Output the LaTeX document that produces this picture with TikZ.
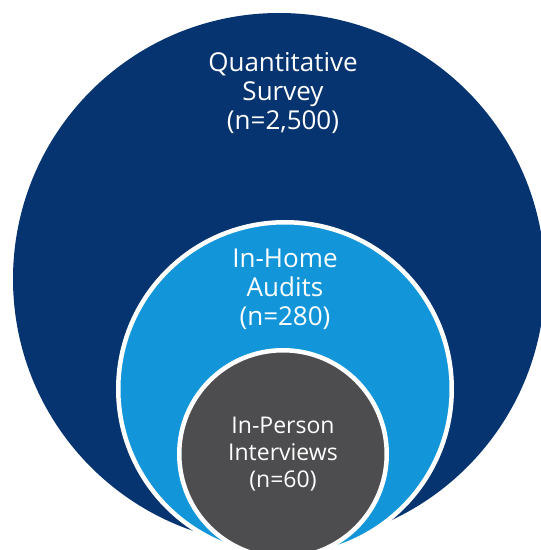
\documentclass[tikz,border=0pt]{standalone}
\usepackage{fontspec}
\setmainfont{Open Sans}
\usetikzlibrary{positioning}

\definecolor{surveyblue}{HTML}{063470}
\definecolor{auditblue}{HTML}{1296D9}
\definecolor{interviewgrey}{HTML}{4D4D4F}

\begin{document}
\begin{tikzpicture}[x=1pt,y=1pt,
		ring/.style={circle, inner sep=0pt, outer sep=0pt},
		edge/.style={draw=white, line width=4.5pt},
		label/.style={text=white, align=center, inner sep=0pt, anchor=north},
		big/.style={font=\fontsize{26}{29}\selectfont},
		small/.style={font=\fontsize{23}{27}\selectfont}]
		\useasboundingbox (0,0) rectangle (541,550);
		\clip (0,0) rectangle (541,550);

		% the three nested samples
		\node [ring, fill=surveyblue, minimum size=532pt] (survey) at (279,271) {};
		\node [ring, edge, fill=auditblue, minimum size=333.5pt] (audits) at (285,161) {};
		\node [ring, edge, fill=interviewgrey, minimum size=207.5pt] (interviews) at (283,96) {};

		\node [label, big, below=39pt of survey.north, xshift=4pt] (surveytext)
			{Quantitative\\Survey\\(n=2,500)};
		\node [label, big, below=26.75pt of audits.north] (auditstext)
			{In-Home\\Audits\\(n=280)};
		\node [label, small, below=66.75pt of interviews.north] (interviewstext)
			{In-Person\\Interviews\\(n=60)};
\end{tikzpicture}
\end{document}
